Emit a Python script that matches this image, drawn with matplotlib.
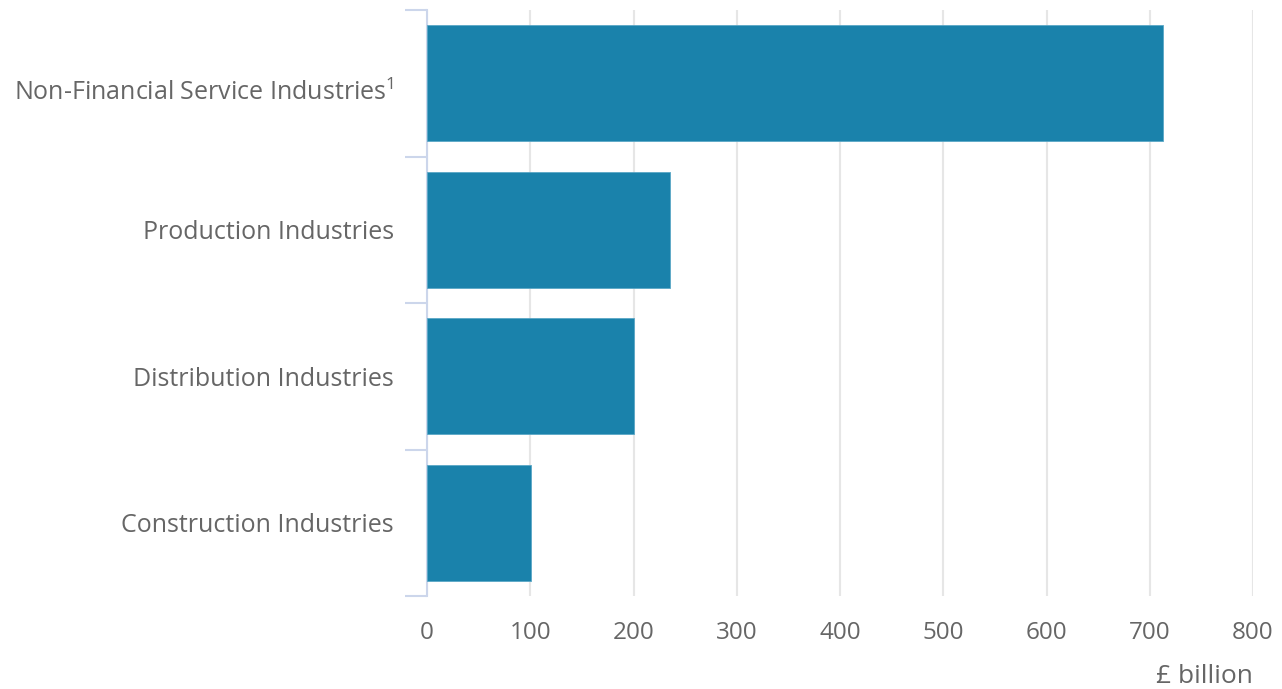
import matplotlib
matplotlib.use("Agg")
import matplotlib.pyplot as plt
import matplotlib.transforms as mtransforms
import numpy as np

categories = ["Non-Financial Service Industries$^1$", "Production Industries",
              "Distribution Industries", "Construction Industries"]
values = [713, 235, 200, 101]
xticks = [0, 100, 200, 300, 400, 500, 600, 700, 800]

plt.rcParams['font.family'] = ['Open Sans', 'DejaVu Sans']
plt.rcParams['mathtext.fontset'] = 'custom'
plt.rcParams['mathtext.rm'] = 'Open Sans'
plt.rcParams['mathtext.it'] = 'Open Sans'
plt.rcParams['mathtext.default'] = 'rm'

fig = plt.figure(figsize=(12.82, 6.89), dpi=100)
ax = fig.add_axes([427/1282, 1-596/689, (1253-427)/1282, (596-10)/689])

y = np.arange(len(categories))
ax.barh(y, values, height=0.79, color='#1a82ab', edgecolor='#5aa7c6', linewidth=0.6, zorder=3)
ax.set_ylim(len(categories)-0.5, -0.5)
ax.set_xlim(0, 800)

ax.set_xticks(xticks)
ax.set_xticklabels([str(v) for v in xticks])
ax.grid(axis='x', color='#e6e6e6', linewidth=1.5, zorder=0)
ax.set_axisbelow(True)

ax.set_yticks(y)
ax.set_yticklabels(categories)
ax.set_yticks(np.arange(-0.5, len(categories)), minor=True)
ax.tick_params(axis='y', which='major', length=0, pad=24, labelsize=18, labelcolor='#666666')
ax.tick_params(axis='y', which='minor', length=16, width=1.5, color='#ccd6eb')
ax.tick_params(axis='x', which='major', length=0, pad=18, labelsize=17.5, labelcolor='#666666')

for s in ['top', 'right', 'bottom']:
    ax.spines[s].set_visible(False)
ax.spines['left'].set_color('#ccd6eb')
ax.spines['left'].set_linewidth(1.5)

ax.set_xlabel('£ billion', fontsize=19, color='#666666', loc='right', labelpad=14)

# nudge the label with superscript down slightly (as in reference)
lbl = ax.get_yticklabels()[0]
lbl.set_transform(lbl.get_transform() + mtransforms.ScaledTranslation(0, -7/100, fig.dpi_scale_trans))

fig.savefig('out.png', dpi=100)
